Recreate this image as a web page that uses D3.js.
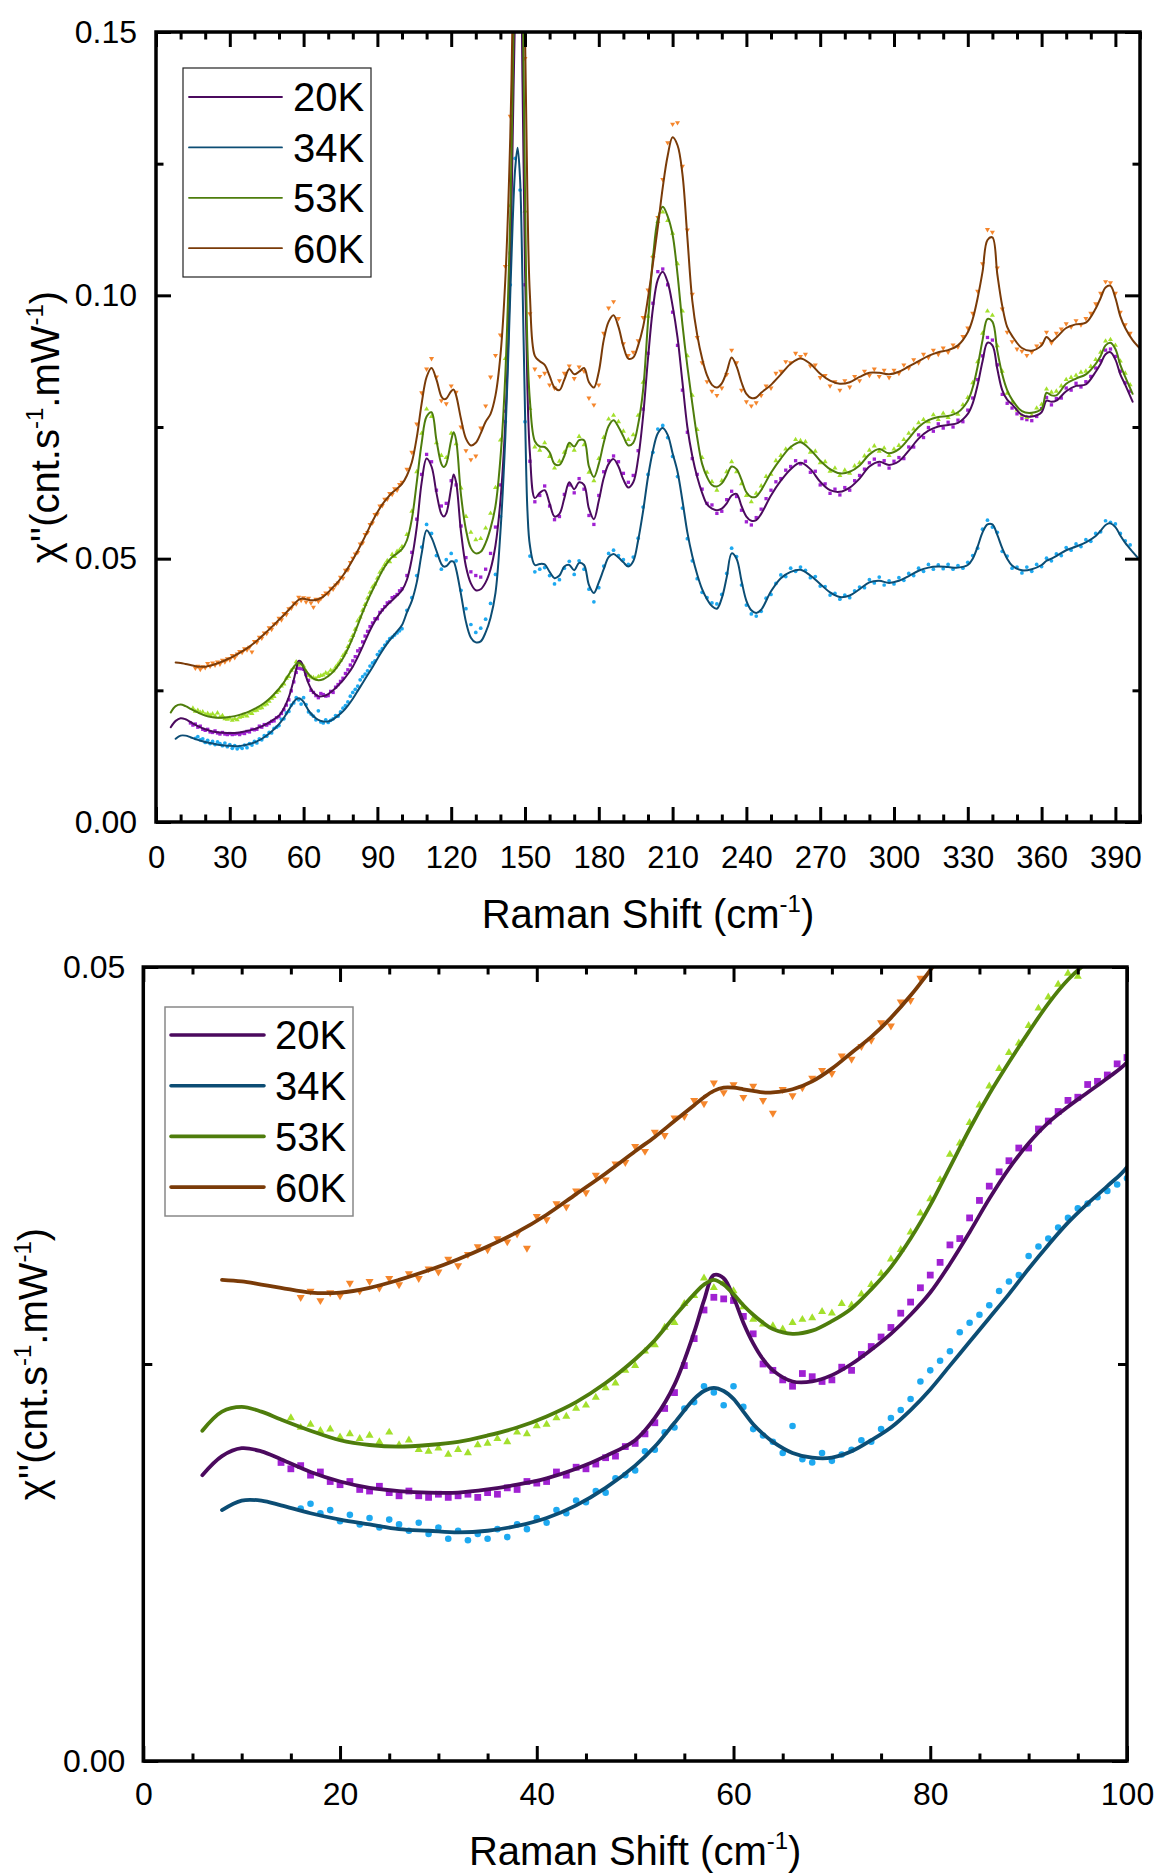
<!DOCTYPE html>
<html>
<head>
<meta charset="utf-8">
<script src="https://cdn.jsdelivr.net/npm/d3@7"></script>
<style>
  body { margin: 0; background: #fff; }
  text { font-family: "Liberation Sans", Arial, sans-serif; }
</style>
</head>
<body>
<div id="ramanChart"></div>
<script>
// chi'' values are kept in units of 1e-3 cnt.s-1.mW-1
var temps = ["20K", "34K", "53K", "60K"];
var lineColors = ["#4b0a5e", "#0c4d74", "#4e7d0c", "#7a3b08"];
var dotColors = ["#a021d2", "#1ea9f0", "#a3e02c", "#f5862c"];

// fitted curves, sampled on a shared Raman shift grid (cm-1)
var fitShift = [6,8,10,12,14,17,20,23,26,29,32,35,38,41,44,47,50,
  52,54,56,57,58,59,60,61,62,63,64,
  66,68,70,72,74,76,78,80,82,84,86,88,90,92,94,96,98,100,
  102,104,106,108,110,112,114,116,117,118,120,121,122,
  124,126,128,130,132,134,136,138,140,142,144,
  145,146,147,148,149,150,151,152,
  154,156,158,160,162,164,166,168,170,172,
  174,176,178,180,182,184,186,188,190,192,
  194,196,198,200,202,204,206,208,210,212,
  214,216,218,220,222,224,226,228,230,232,
  234,236,238,240,242,244,246,
  250,254,258,262,266,270,274,278,282,286,290,294,298,302,306,310,314,318,322,326,330,
  332,334,336,338,340,342,344,346,348,
  352,356,360,
  362,364,366,
  370,374,378,382,
  384,386,388,390,392,394,
  397,400];

var fit20K = [18.0,19.2,19.7,19.5,19.0,18.2,17.6,17.2,17.0,16.9,16.9,17.1,17.4,17.8,18.4,19.2,20.2,
  21.6,23.7,27.0,29.0,30.6,30.4,29.2,27.6,26.3,25.3,24.6,
  23.9,23.9,24.3,25.0,25.9,26.9,28.1,29.5,31.3,33.3,35.4,37.3,38.9,40.2,41.2,42.1,43.0,44.0,
  46.0,50.0,56.0,64.5,69.0,67.5,62.5,58.5,58.0,58.6,63.5,66.0,64.5,
  55.0,48.5,45.3,44.0,44.2,45.5,48.0,52.5,61.0,76.0,105,
  130,155,172,168,140,105,82,70,
  61.5,62.5,63.0,60.5,58.0,58.5,61.5,64.5,63.2,64.5,
  64.0,59.5,57.5,61.0,65.3,68.0,68.9,67.5,65.0,63.5,
  64.5,69.0,77.0,88.0,97.5,103.0,104.5,102.5,98.0,92.0,
  83.5,75.0,69.5,65.5,62.5,60.3,59.5,59.2,59.5,60.5,
  62.0,62.3,60.0,58.0,57.2,57.3,58.5,
  62.0,64.8,67.0,68.2,67.0,64.6,63.0,62.7,63.5,65.2,67.5,68.4,67.8,68.5,70.5,72.8,74.3,75.1,75.4,75.8,77.5,
  79.5,83.0,87.5,91.0,90.5,86.0,82.0,80.2,79.3,
  77.3,77.0,77.8,
  80.0,79.8,80.0,
  81.8,82.8,83.1,85.5,
  87.0,88.8,89.2,87.8,85.0,83.0,
  79.8,null];

var fit34K = [null,15.8,16.4,16.4,16.1,15.6,15.2,14.9,14.6,14.5,14.4,14.5,14.8,15.3,16.1,17.2,18.6,
  19.8,21.3,22.8,23.3,23.5,23.3,22.8,22.0,21.2,20.6,20.1,
  19.4,19.1,19.1,19.5,20.2,21.0,22.1,23.4,24.9,26.4,27.9,29.4,31.0,32.5,33.9,35.1,36.2,37.4,
  39.8,42.0,45.5,51.0,55.4,54.0,51.5,49.0,48.5,48.6,49.5,49.4,48.0,
  43.2,38.0,35.0,34.1,34.3,36.0,38.8,43.5,55.0,73.0,100,
  114,124,128,122,102,78,59,52.5,
  48.8,49.0,48.9,47.5,46.3,46.8,48.5,48.8,47.8,49.2,
  48.8,45.0,43.5,45.5,48.0,50.3,50.9,50.2,49.3,48.5,
  49.5,53.5,59.0,65.5,70.5,73.8,74.8,73.5,70.0,66.5,
  61.0,55.0,50.5,47.0,44.2,42.3,41.0,40.5,42.5,46.5,
  51.0,50.0,45.8,42.0,40.2,39.7,40.3,
  43.8,46.3,47.5,47.9,46.8,45.2,43.6,42.7,43.0,44.2,45.5,45.8,45.4,45.8,46.7,47.7,48.3,48.5,48.4,48.3,48.8,
  50.0,52.3,55.0,56.5,56.5,54.5,52.0,50.0,48.7,
  47.8,48.0,48.8,
  49.6,50.0,50.5,
  51.6,52.3,53.1,54.3,
  55.3,56.4,56.7,56.0,54.4,53.0,
  51.3,49.7];

var fit53K = [20.8,22.0,22.3,22.0,21.5,20.8,20.2,19.9,19.8,19.9,20.1,20.5,21.0,21.7,22.6,23.8,25.3,
  26.5,28.0,29.4,30.0,30.3,30.0,29.4,28.7,28.1,27.6,27.2,
  26.9,27.1,27.7,28.5,29.7,31.1,32.9,35.0,37.4,39.8,42.0,44.0,45.9,47.7,49.2,50.3,51.0,51.8,
  53.5,57.5,64.5,72.0,77.0,77.8,72.5,68.0,67.4,68.0,72.5,74.0,72.5,
  62.0,55.5,52.0,51.0,51.3,53.0,55.8,60.0,69.0,85.0,115,
  140,170,190,188,160,120,90,80,
  72.3,71.3,71.2,70.2,68.0,67.8,69.5,72.0,71.3,72.5,
  72.5,67.5,65.5,68.0,72.0,75.2,76.3,75.0,73.2,71.5,
  72.0,75.5,82.0,95.0,107.0,114.5,116.8,115.0,111.5,104.0,
  94.5,86.5,79.5,73.0,68.0,65.5,64.0,63.7,64.3,65.8,
  67.5,67.0,65.0,62.6,61.7,61.8,63.0,
  66.3,69.0,71.2,72.1,70.7,68.6,67.0,66.2,66.5,67.7,69.8,70.8,70.0,70.8,72.8,75.0,76.3,76.9,77.1,77.8,80.0,
  82.5,86.5,91.5,95.5,95.0,89.5,85.0,82.0,80.2,
  78.0,77.7,78.5,
  81.5,81.0,81.0,
  83.2,84.2,85.0,87.0,
  88.5,90.5,91.0,89.8,86.8,84.5,
  81.3,null];

var fit60K = [null,30.3,30.2,30.0,29.8,29.5,29.5,29.8,30.3,30.9,31.6,32.4,33.3,34.4,35.7,37.0,38.4,
  39.3,40.3,41.3,41.8,42.2,42.4,42.4,42.3,42.2,42.1,42.1,
  42.3,42.8,43.6,44.6,45.6,46.8,48.2,49.8,51.5,53.3,55.2,57.1,58.8,60.3,61.5,62.5,63.3,64.2,
  65.8,68.3,73.0,79.5,84.5,86.2,84.0,80.8,80.3,80.4,81.8,82.1,81.0,
  76.5,72.8,71.5,72.0,73.8,76.0,77.5,81.0,88.5,103,130,
  155,185,210,220,200,150,118,100,
  88.5,87.5,86.8,84.7,82.5,82.0,84.0,86.0,85.0,85.5,
  86.2,83.5,82.5,85.5,91.5,95.0,96.2,94.0,90.3,88.0,
  88.2,90.5,94.0,99.5,106.0,113.0,120.5,126.5,130.0,128.5,
  123.0,111.0,99.0,92.5,88.0,84.8,83.0,82.5,83.3,85.5,
  88.2,86.5,83.5,81.3,80.5,80.6,81.5,
  83.0,85.0,87.0,88.0,87.0,85.1,83.8,83.2,83.5,84.5,85.3,85.3,85.0,85.5,86.5,87.5,88.5,89.2,89.6,90.5,93.0,
  95.5,99.5,104.5,110.5,111.0,104.0,98.0,94.0,92.3,
  90.0,89.5,90.5,
  92.1,91.3,92.0,
  93.8,94.5,94.8,97.5,
  99.5,101.5,101.8,99.5,96.0,93.8,
  91.5,89.9];

// measured points: every 1 cm-1 up to 100, then every 2 cm-1
var dotShift = [14,15,16,17,18,19,20,21,22,23,24,25,26,27,28,29,30,31,32,33,34,35,36,37,38,39,
  40,41,42,43,44,45,46,47,48,49,50,51,52,53,54,55,56,57,58,59,60,61,62,63,64,65,66,67,68,69,
  70,71,72,73,74,75,76,77,78,79,80,81,82,83,84,85,86,87,88,89,90,91,92,93,94,95,96,97,98,99,100,
  102,104,106,108,110,112,114,116,118,120,122,124,126,128,130,132,134,136,138,140,
  142,144,146,148,150,152,154,156,158,160,162,164,166,168,170,172,174,176,178,180,
  182,184,186,188,190,192,194,196,198,200,202,204,206,208,210,212,214,216,218,220,
  222,224,226,228,230,232,234,236,238,240,242,244,246,248,250,252,254,256,258,260,
  262,264,266,268,270,272,274,276,278,280,282,284,286,288,290,292,294,296,298,300,
  302,304,306,308,310,312,314,316,318,320,322,324,326,328,330,332,334,336,338,340,
  342,344,346,348,350,352,354,356,358,360,362,364,366,368,370,372,374,376,378,380,
  382,384,386,388,390,392,394,396];

var dot20K = [18.8,18.4,18.6,18.0,18.2,17.6,17.4,17.6,17.1,17.0,17.3,16.9,16.7,17.0,16.7,16.6,16.8,16.6,16.7,16.8,16.6,16.9,16.8,17.2,17.1,17.6,
  17.5,17.6,18.2,18.0,18.5,18.4,18.7,19.1,19.2,19.8,20.0,20.6,21.3,22.2,23.2,24.9,26.6,28.4,29.2,29.1,29.0,28.0,26.9,25.0,24.6,24.0,23.6,24.4,24.2,23.9,
  24.0,24.8,24.6,25.6,26.1,26.7,27.3,28.2,28.9,29.8,30.6,31.4,32.5,32.9,34.2,35.3,36.2,37.1,37.8,38.6,38.6,39.8,40.3,40.9,41.6,41.8,42.6,42.8,43.2,43.9,44.3,
  46.8,51.2,57.5,66.0,69.8,68.4,63.0,60.0,60.5,64.8,64.0,56.2,50.2,47.5,46.8,46.5,48.0,51.0,56.0,64.0,
  78.0,108,152,165,102,68.5,60.8,62.0,63.8,60.0,57.4,58.0,62.2,64.0,62.5,65.2,63.2,58.2,56.5,62.0,
  66.5,68.6,69.5,68.4,66.2,64.5,65.8,70.5,78.4,89.0,98.5,104.5,105.0,102.0,96.8,90.5,82.0,74.0,69.0,66.0,
  63.2,60.5,60.2,58.6,59.0,61.2,62.8,61.8,59.2,57.0,56.4,57.8,59.4,61.4,63.0,64.6,65.2,66.8,67.5,68.6,
  68.0,68.5,66.4,66.6,64.0,64.2,62.4,63.2,62.1,63.5,63.0,64.8,65.8,67.0,68.2,68.9,67.8,68.6,67.2,68.5,
  69.2,69.0,71.2,71.2,73.5,73.0,74.9,74.2,75.6,74.8,75.9,75.0,76.3,76.0,78.2,80.5,84.0,88.5,92.0,91.5,
  86.8,81.2,79.5,78.6,77.5,76.6,76.4,76.2,77.0,78.5,80.6,79.2,80.4,80.5,82.4,82.0,83.3,82.6,83.6,84.6,
  86.2,87.6,89.6,89.8,88.4,85.6,83.4,81.8];

var dot34K = [null,null,15.9,16.2,15.6,15.8,15.1,15.5,14.9,15.3,14.7,15.2,14.9,14.5,15.0,14.3,14.7,14.0,14.5,13.9,14.3,14.0,14.6,14.1,14.9,14.6,
  15.3,15.0,15.8,15.6,16.4,16.3,17.0,16.9,17.8,18.0,18.3,19.5,19.6,20.7,21.0,22.2,22.6,23.6,23.2,22.4,23.6,22.3,20.9,20.5,20.1,19.4,21.1,19.0,18.8,19.4,
  18.9,19.3,19.6,20.2,20.1,20.9,21.6,22.1,22.8,23.9,24.6,25.2,25.8,27.0,27.6,28.1,28.7,29.6,30.2,30.6,31.8,32.4,32.9,33.6,34.2,34.8,35.1,35.5,35.9,36.3,36.7,
  40.2,42.6,46.8,52.2,56.5,54.8,50.6,48.0,49.8,51.0,49.6,44.0,40.5,37.5,36.0,36.8,38.5,41.5,47.0,58.0,
  76.0,102,126,120,76,50.5,47.5,48.0,48.3,46.8,45.2,46.0,48.2,49.5,47.0,49.6,48.0,44.2,41.8,44.5,
  48.6,51.0,51.6,50.6,49.8,48.9,50.3,53.9,59.8,66.0,70.2,74.6,75.3,73.0,69.4,65.6,59.6,53.8,49.6,46.2,
  43.6,42.6,41.6,41.4,43.2,47.2,52.0,50.4,45.0,41.2,39.5,39.1,40.0,42.5,43.2,45.3,46.9,46.6,48.2,47.6,
  48.4,47.8,46.4,46.6,44.8,44.7,43.1,43.4,42.3,43.1,42.6,43.9,44.6,44.5,46.0,45.4,46.5,45.0,45.8,45.2,
  46.4,45.9,47.2,46.8,48.2,47.6,48.9,48.0,48.8,48.1,48.9,48.0,48.7,48.2,49.3,50.6,52.0,55.6,57.3,56.0,
  55.0,51.4,50.5,48.2,48.4,47.3,48.4,47.6,48.9,48.5,50.1,49.6,50.9,50.6,52.1,51.6,52.8,52.3,53.6,53.3,
  54.8,55.1,57.2,56.9,56.6,54.8,53.4,52.6];

var dot53K = [null,21.6,21.0,21.2,20.8,20.9,20.4,20.6,20.3,20.5,20.1,20.7,19.9,20.2,19.6,19.5,19.7,19.3,19.6,19.4,19.9,20.0,20.3,20.1,20.7,20.6,
  21.1,21.2,21.6,21.7,22.2,22.4,22.9,23.5,23.8,24.6,24.9,25.8,26.2,27.3,27.6,28.8,29.3,30.4,29.8,30.1,29.6,28.6,27.8,27.5,27.4,27.2,27.6,27.8,27.9,28.3,
  28.2,28.8,28.7,29.4,30.0,30.7,31.6,32.2,33.3,34.5,35.4,36.6,38.2,38.9,40.2,41.3,42.5,43.6,44.6,45.2,46.3,47.4,48.1,48.9,49.6,49.4,50.8,50.4,51.4,51.6,52.3,
  54.6,59.0,66.5,73.8,78.4,77.0,72.0,69.6,69.2,73.8,71.8,63.4,58.0,55.0,53.6,53.8,55.8,58.6,63.5,72.5,
  88.0,117,166,183,116,78.5,71.2,70.6,72.0,69.4,67.2,68.5,70.2,71.4,70.6,73.2,71.6,66.4,64.8,69.0,
  73.0,76.5,77.2,76.0,74.2,72.6,73.5,77.2,83.5,96.0,107.5,114.0,115.8,114.2,111.8,106.0,97.0,88.5,81.0,74.5,
  69.2,66.4,64.6,63.0,64.8,66.5,68.4,66.5,64.2,62.0,60.8,62.4,63.8,65.6,66.0,68.6,69.6,70.8,71.0,72.6,
  72.4,72.2,70.2,70.4,68.2,68.4,66.6,67.2,65.8,66.8,66.2,67.6,68.2,69.5,70.6,71.4,70.4,71.0,69.6,70.8,
  71.5,72.6,73.8,74.6,75.8,76.4,76.0,77.3,76.4,77.6,76.8,77.9,77.4,79.2,80.6,83.4,87.4,92.8,97.0,96.2,
  90.4,85.6,81.4,79.6,78.2,77.2,76.8,77.2,78.6,79.3,82.2,81.6,81.8,82.8,84.0,84.4,84.8,85.4,85.6,86.5,
  87.8,89.2,91.3,91.6,90.5,87.5,85.2,83.0];

var dot60K = [null,null,29.2,29.6,29.0,29.5,29.3,30.1,29.6,30.2,29.8,30.4,30.0,30.7,30.4,31.0,30.8,31.6,31.2,31.9,32.4,32.2,32.9,32.7,33.2,32.3,
  34.3,34.1,35.1,34.9,35.9,35.8,36.9,36.6,37.6,37.7,38.7,38.4,39.6,39.4,40.5,40.6,41.6,41.4,42.7,42.1,42.6,41.8,42.5,41.6,40.8,42.3,41.9,42.4,43.0,43.5,
  43.3,44.4,44.2,45.0,45.4,46.5,46.3,47.8,47.9,49.3,50.1,50.9,51.2,52.8,53.0,54.6,55.0,56.5,56.8,58.4,58.5,60.0,60.1,61.3,61.3,62.4,62.2,63.3,63.0,64.1,64.5,
  67.0,70.2,75.6,81.5,86.0,88.0,84.5,80.0,79.4,82.8,81.6,75.0,70.5,68.8,69.5,74.8,79.0,84.5,88.6,92.5,
  105.5,134,180,212,145,96.5,86.0,84.6,85.2,83.0,82.4,83.8,85.2,86.6,84.2,86.4,85.6,80.5,79.2,83.0,
  92.8,97.6,98.8,95.6,90.8,88.6,89.2,91.4,95.8,101.0,107.2,114.8,122.0,129.0,132.5,132.8,124.5,112.4,100.2,92.0,
  87.2,83.6,81.8,81.0,82.4,85.0,89.6,87.2,82.0,79.8,79.0,79.6,81.0,82.8,82.4,85.2,85.6,87.4,87.2,89.0,
  88.4,88.8,86.6,86.8,84.4,84.8,82.8,83.6,82.0,83.8,82.6,84.6,83.8,85.6,84.8,86.0,84.6,85.8,84.4,85.8,
  85.2,86.8,86.2,87.8,87.2,88.8,88.2,89.6,88.8,90.0,89.2,90.6,90.2,92.2,93.8,96.6,100.8,106.0,112.5,112.0,
  105.2,97.4,93.0,91.2,89.8,89.4,88.6,89.2,90.4,90.8,93.0,91.0,92.8,93.6,94.6,94.0,95.2,94.4,95.6,96.6,
  98.4,100.4,102.6,102.4,100.4,96.8,94.4,92.8];

// tick values
var topShiftTicks = [0,30,60,90,120,150,180,210,240,270,300,330,360,390];
var topShiftMinor = [10,20,40,50,70,80,100,110,130,140,160,170,190,200,220,230,250,260,280,290,310,320,340,350,370,380,400];
var topChiTicks = [0,50,100,150];
var topChiMinor = [25,75,125];
var lowShiftTicks = [0,20,40,60,80,100];
var lowShiftMinor = [5,10,15,25,30,35,45,50,55,65,70,75,85,90,95];
var lowChiTicks = [0,50];
var lowChiMinor = [25];

var fitValues = [fit20K, fit34K, fit53K, fit60K];
var dotValues = [dot20K, dot34K, dot53K, dot60K];
var markerTypes = [d3.symbolSquare, d3.symbolCircle, d3.symbolTriangle, d3.symbolTriangle];

var width = 1156;
var height = 1874;
var fontStack = '"Liberation Sans", Arial, sans-serif';

var svg = d3.select("#ramanChart")
            .append("svg")
            .attr("width", width)
            .attr("height", height);

function tidyAxis(a, fontSize) {
  a.select(".domain").remove();
  a.attr("font-size", fontSize).attr("font-family", fontStack);
  a.selectAll(".tick line").attr("stroke", "#000").attr("stroke-width", 3);
  a.selectAll(".tick text").attr("fill", "#000");
}

function makePanel(p) {
  var x = d3.scaleLinear().domain(p.xDomain).range([p.left, p.right]);
  var y = d3.scaleLinear().domain(p.yDomain).range([p.bottom, p.top]);
  var g = svg.append("g");

  g.append("clipPath")
   .attr("id", p.id + "Clip")
   .append("rect")
   .attr("x", p.left).attr("y", p.top)
   .attr("width", p.right - p.left).attr("height", p.bottom - p.top);

  var plot = g.append("g").attr("clip-path", "url(#" + p.id + "Clip)");

  // measured points first, fits on top
  temps.forEach(function(t, i) {
    var pts = dotShift.map(function(s, j) { return [s, dotValues[i][j]]; })
                      .filter(function(d) { return d[1] != null; });
    var sym = d3.symbol().type(markerTypes[i]).size(p.markerSize[i]);
    plot.selectAll(null)
        .data(pts)
        .enter()
        .append("path")
        .attr("d", sym)
        .attr("transform", function(d) {
          return "translate(" + x(d[0]) + "," + y(d[1]) + ")" + (i == 3 ? " rotate(180)" : "");
        })
        .attr("fill", dotColors[i]);
  });

  var line = d3.line()
               .defined(function(d) { return d[1] != null; })
               .x(function(d) { return x(d[0]); })
               .y(function(d) { return y(d[1]); })
               .curve(d3.curveCatmullRom.alpha(0.5));

  temps.forEach(function(t, i) {
    var pts = fitShift.map(function(s, j) { return [s, fitValues[i][j]]; });
    plot.append("path")
        .datum(pts)
        .attr("d", line)
        .attr("fill", "none")
        .attr("stroke", lineColors[i])
        .attr("stroke-width", p.lineWidth)
        .attr("stroke-linejoin", "round")
        .attr("stroke-linecap", "round");
  });

  // ticks point inwards on all four sides
  var ab = g.append("g").attr("transform", "translate(0," + p.bottom + ")")
            .call(d3.axisBottom(x).tickValues(p.xMajor).tickSize(-15).tickSizeOuter(0)
                    .tickPadding(p.xPad).tickFormat(d3.format("d")));
  tidyAxis(ab, p.xFont);
  tidyAxis(g.append("g").attr("transform", "translate(0," + p.bottom + ")")
            .call(d3.axisBottom(x).tickValues(p.xMinor).tickSize(-7.5).tickSizeOuter(0).tickFormat("")), p.xFont);
  tidyAxis(g.append("g").attr("transform", "translate(0," + p.top + ")")
            .call(d3.axisTop(x).tickValues(p.xMajor).tickSize(-15).tickSizeOuter(0).tickFormat("")), p.xFont);
  tidyAxis(g.append("g").attr("transform", "translate(0," + p.top + ")")
            .call(d3.axisTop(x).tickValues(p.xMinor).tickSize(-7.5).tickSizeOuter(0).tickFormat("")), p.xFont);

  var al = g.append("g").attr("transform", "translate(" + p.left + ",0)")
            .call(d3.axisLeft(y).tickValues(p.yMajor).tickSize(-15).tickSizeOuter(0)
                    .tickPadding(p.yPad).tickFormat(function(d) { return (d / 1000).toFixed(2); }));
  tidyAxis(al, p.yFont);
  tidyAxis(g.append("g").attr("transform", "translate(" + p.left + ",0)")
            .call(d3.axisLeft(y).tickValues(p.yMinor).tickSize(-p.yMinorLen).tickSizeOuter(0).tickFormat("")), p.yFont);
  tidyAxis(g.append("g").attr("transform", "translate(" + p.right + ",0)")
            .call(d3.axisRight(y).tickValues(p.yMajor).tickSize(-15).tickSizeOuter(0).tickFormat("")), p.yFont);
  tidyAxis(g.append("g").attr("transform", "translate(" + p.right + ",0)")
            .call(d3.axisRight(y).tickValues(p.yMinor).tickSize(-p.yMinorLen).tickSizeOuter(0).tickFormat("")), p.yFont);

  g.append("rect")
   .attr("x", p.left).attr("y", p.top)
   .attr("width", p.right - p.left).attr("height", p.bottom - p.top)
   .attr("fill", "none").attr("stroke", "#000").attr("stroke-width", 3.5);

  // legend
  var lg = g.append("g");
  lg.append("rect")
    .attr("x", p.legend.x).attr("y", p.legend.y)
    .attr("width", p.legend.w).attr("height", p.legend.h)
    .attr("fill", "#fff").attr("stroke", p.legend.stroke).attr("stroke-width", p.legend.strokeWidth);
  temps.forEach(function(t, i) {
    var rowY = p.legend.rowStart + i * p.legend.rowGap;
    lg.append("line")
      .attr("x1", p.legend.lineX1).attr("x2", p.legend.lineX2)
      .attr("y1", rowY).attr("y2", rowY)
      .attr("stroke", lineColors[i]).attr("stroke-width", p.legend.lineWidth)
      .attr("stroke-linecap", "round");
    lg.append("text")
      .attr("x", p.legend.textX).attr("y", rowY).attr("dy", "0.36em")
      .attr("font-size", 40).attr("fill", "#000")
      .text(t);
  });

  // axis titles
  var xt = g.append("text")
            .attr("x", (p.left + p.right) / 2).attr("y", p.xTitleY)
            .attr("text-anchor", "middle").attr("font-size", 40);
  xt.append("tspan").text("Raman Shift (cm");
  xt.append("tspan").attr("font-size", 24).attr("dy", -16).text("-1");
  xt.append("tspan").attr("dy", 16).text(")");

  var yt = g.append("text")
            .attr("transform", "translate(" + p.yTitleX + "," + (p.top + p.bottom) / 2 + ") rotate(-90)")
            .attr("dy", "0.26em")
            .attr("text-anchor", "middle").attr("font-size", 40);
  yt.append("tspan").text("\u03c7''(cnt.s");
  yt.append("tspan").attr("font-size", 24).attr("dy", -16).text("-1");
  yt.append("tspan").attr("dy", 16).text(".mW");
  yt.append("tspan").attr("font-size", 24).attr("dy", -16).text("-1");
  yt.append("tspan").attr("dy", 16).text(")");
}

// full spectrum
makePanel({
  id: "full",
  left: 156, right: 1140, top: 32, bottom: 822,
  xDomain: [0, 400], yDomain: [0, 150],
  xMajor: topShiftTicks, xMinor: topShiftMinor,
  yMajor: topChiTicks, yMinor: topChiMinor, yMinorLen: 7.5,
  xPad: 24, yPad: 19, xFont: 31, yFont: 32,
  lineWidth: 2, markerSize: [11, 11, 11, 11],
  xTitleY: 928, yTitleX: 49,
  legend: { x: 183, y: 68, w: 188, h: 209, stroke: "#222", strokeWidth: 1.2,
            rowStart: 97, rowGap: 50.4, lineX1: 189, lineX2: 282, lineWidth: 1.8, textX: 293 }
});

// low-frequency zoom
makePanel({
  id: "low",
  left: 143.3, right: 1127, top: 967, bottom: 1761,
  xDomain: [0, 100], yDomain: [0, 50],
  xMajor: lowShiftTicks, xMinor: lowShiftMinor,
  yMajor: lowChiTicks, yMinor: lowChiMinor, yMinorLen: 9,
  xPad: 21, yPad: 18, xFont: 32, yFont: 32,
  lineWidth: 3.8, markerSize: [46, 34, 28, 28],
  xTitleY: 1865, yTitleX: 37,
  legend: { x: 165, y: 1007, w: 188, h: 209, stroke: "#888", strokeWidth: 1.5,
            rowStart: 1035, rowGap: 50.7, lineX1: 171, lineX2: 264, lineWidth: 3.6, textX: 275 }
});
</script>
</body>
</html>
